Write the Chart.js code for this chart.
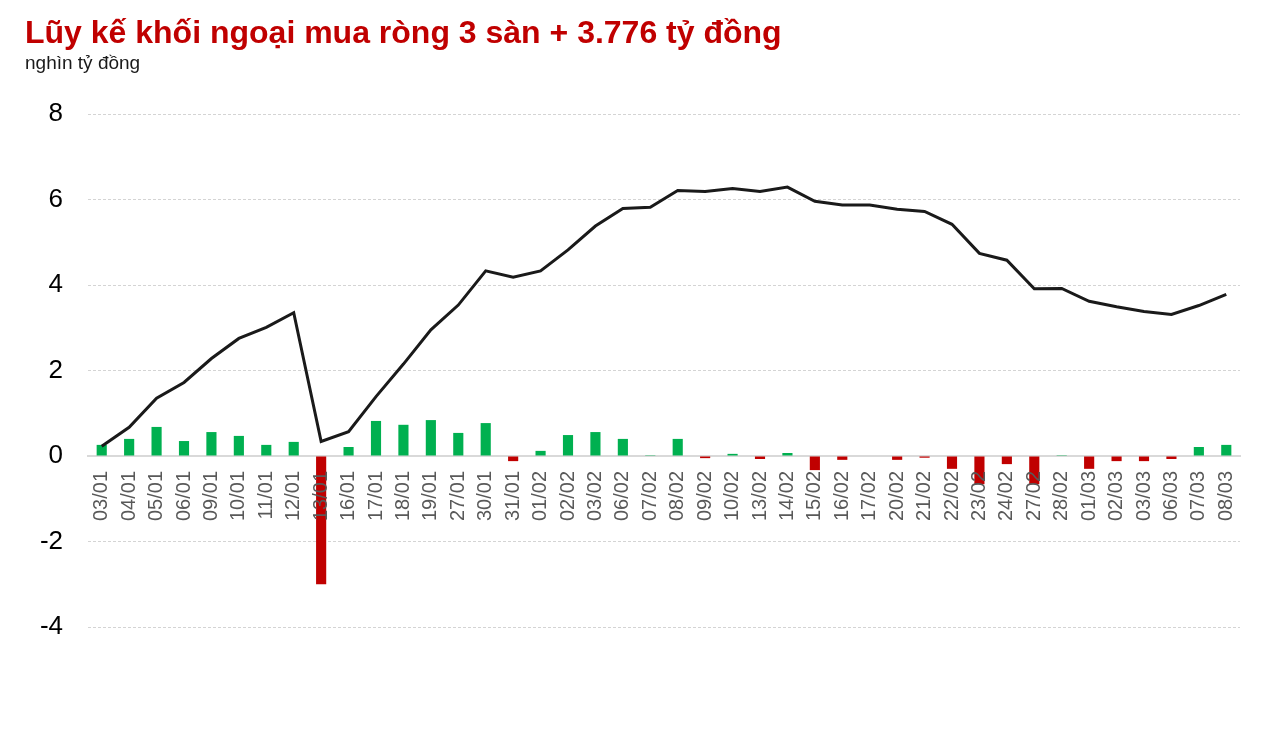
<!DOCTYPE html>
<html>
<head>
<meta charset="utf-8">
<script src="https://cdn.jsdelivr.net/npm/chart.js@4.4.1/dist/chart.umd.min.js"></script>
<style>
html,body{margin:0;padding:0;background:#fff;overflow:hidden}
#wrap{position:relative;width:1279px;height:731px}
#title{position:absolute;left:25px;top:16px;font:bold 32px "Liberation Sans",Arial,sans-serif;line-height:1;color:#c00000;white-space:nowrap}
#sub{position:absolute;left:25px;top:53px;font:19px "Liberation Sans",Arial,sans-serif;line-height:1;color:#1a1a1a;white-space:nowrap}
canvas{position:absolute;left:0;top:0}
</style>
</head>
<body>
<div id="wrap">
<canvas id="c" width="1279" height="731"></canvas>
<div id="title">Lũy kế khối ngoại mua ròng 3 sàn + 3.776 tỷ đồng</div>
<div id="sub">nghìn tỷ đồng</div>
</div>
<script>
const categories = ["03/01","04/01","05/01","06/01","09/01","10/01","11/01","12/01","13/01","16/01","17/01","18/01","19/01","27/01","30/01","31/01","01/02","02/02","03/02","06/02","07/02","08/02","09/02","10/02","13/02","14/02","15/02","16/02","17/02","20/02","21/02","22/02","23/02","24/02","27/02","28/02","01/03","02/03","03/03","06/03","07/03","08/03"];
const dailyNet = [0.26,0.40,0.68,0.35,0.56,0.47,0.26,0.33,-3.00,0.21,0.82,0.73,0.84,0.54,0.77,-0.12,0.12,0.49,0.56,0.40,0.02,0.40,-0.05,0.05,-0.07,0.07,-0.33,-0.09,0.00,-0.09,-0.04,-0.30,-0.66,-0.19,-0.66,0.02,-0.30,-0.12,-0.12,-0.07,0.21,0.26];
const cumulative = [0.23,0.67,1.35,1.72,2.28,2.75,3.01,3.35,0.34,0.57,1.39,2.15,2.95,3.53,4.33,4.18,4.33,4.82,5.38,5.79,5.82,6.21,6.19,6.26,6.19,6.29,5.96,5.87,5.87,5.77,5.72,5.42,4.74,4.58,3.91,3.92,3.62,3.49,3.38,3.31,3.52,3.78];
const yTicks = [8,6,4,2,0,-2,-4];

const GREEN = "#00b050", RED = "#c00000";

new Chart(document.getElementById("c"), {
  type: "bar",
  data: {
    labels: categories,
    datasets: [
      {
        type: "line",
        data: cumulative,
        borderColor: "#1a1a1a",
        borderWidth: 3,
        pointRadius: 0,
        tension: 0,
        fill: false,
        order: 0
      },
      {
        type: "bar",
        data: dailyNet,
        backgroundColor: ctx => (ctx.raw >= 0 ? GREEN : RED),
        barPercentage: 0.37,
        categoryPercentage: 1,
        order: 1
      }
    ]
  },
  options: {
    responsive: false,
    animation: false,
    devicePixelRatio: 1,
    layout: { padding: { left: 0, right: 39, top: 114, bottom: 104 } },
    plugins: { legend: { display: false }, tooltip: { enabled: false }, title: { display: false } },
    scales: {
      x: {
        position: { y: 0 },
        offset: true,
        grid: { display: false, drawTicks: false },
        border: { display: true, color: "#d9d9d9", width: 2 },
        ticks: {
          z: 1,
          autoSkip: false,
          minRotation: 90,
          maxRotation: 90,
          padding: 15,
          color: "#595959",
          font: { family: "'Liberation Sans', Arial, sans-serif", size: 20 }
        },
        afterFit: s => { s.height = 0; }
      },
      y: {
        min: -4,
        max: 8,
        afterBuildTicks: s => { s.ticks = yTicks.map(v => ({ value: v })); },
        grid: {
          color: ctx => (ctx.tick && ctx.tick.value === 0 ? "rgba(0,0,0,0)" : "#d4d4d4"),
          lineWidth: 1,
          drawTicks: false
        },
        border: { display: false, dash: [3, 2] },
        ticks: {
          padding: 25,
          color: "#000",
          font: { family: "'Liberation Sans', Arial, sans-serif", size: 26 }
        },
        afterFit: s => { s.width = 88; }
      }
    }
  }
});
</script>
</body>
</html>
